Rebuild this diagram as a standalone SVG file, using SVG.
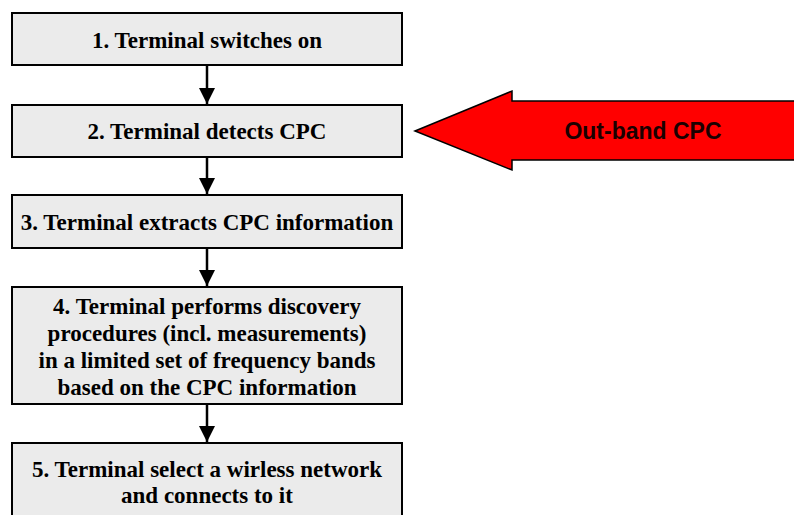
<svg xmlns="http://www.w3.org/2000/svg" width="794" height="515" viewBox="0 0 794 515">
  <defs>
    <style>
      .box { fill: #ebebeb; stroke: #000; stroke-width: 2; }
      .lbl { font-family: "Liberation Serif", "Times New Roman", serif; font-weight: bold; font-size: 23px; fill: #000; text-anchor: middle; }
      .link { stroke: #000; stroke-width: 2.5; fill: none; }
      .big { fill: #ff0000; stroke: #000; stroke-width: 1.5; }
      .bigtxt { font-family: "Liberation Sans", Arial, sans-serif; font-weight: bold; font-size: 23px; fill: #1a0000; text-anchor: middle; }
    </style>
    <marker id="head" markerWidth="16" markerHeight="16" viewBox="0 0 16 16" refX="16" refY="8" orient="auto" markerUnits="userSpaceOnUse">
      <path d="M0,0 L16,8 L0,16 Z" fill="#000"/>
    </marker>
  </defs>

  <g id="connectors">
    <line class="link" x1="207" y1="66" x2="207" y2="104" marker-end="url(#head)"/>
    <line class="link" x1="207" y1="158" x2="207" y2="194" marker-end="url(#head)"/>
    <line class="link" x1="207" y1="249" x2="207" y2="286" marker-end="url(#head)"/>
    <line class="link" x1="207" y1="405" x2="207" y2="442" marker-end="url(#head)"/>
  </g>

  <g id="step1">
    <rect class="box" x="12" y="13" width="390" height="52"/>
    <text class="lbl" x="207" y="48">1. Terminal switches on</text>
  </g>

  <g id="step2">
    <rect class="box" x="12" y="105" width="390" height="52"/>
    <text class="lbl" x="207" y="139">2. Terminal detects CPC</text>
  </g>

  <g id="step3">
    <rect class="box" x="12" y="195" width="390" height="53"/>
    <text class="lbl" x="207" y="230">3. Terminal extracts CPC information</text>
  </g>

  <g id="step4">
    <rect class="box" x="12" y="287" width="390" height="117"/>
    <text class="lbl" x="207" y="314">4. Terminal performs discovery</text>
    <text class="lbl" x="207" y="341">procedures (incl. measurements)</text>
    <text class="lbl" x="207" y="368">in a limited set of frequency bands</text>
    <text class="lbl" x="207" y="395">based on the CPC information</text>
  </g>

  <g id="step5">
    <rect class="box" x="12" y="443" width="390" height="80"/>
    <text class="lbl" x="207" y="477">5. Terminal select a wirless network</text>
    <text class="lbl" x="207" y="503">and connects to it</text>
  </g>

  <g id="outband">
    <path class="big" d="M415,131 L512,91 L512,101 L800,101 L800,160 L512,160 L512,170 Z"/>
    <text class="bigtxt" x="643" y="139">Out-band CPC</text>
  </g>
</svg>
